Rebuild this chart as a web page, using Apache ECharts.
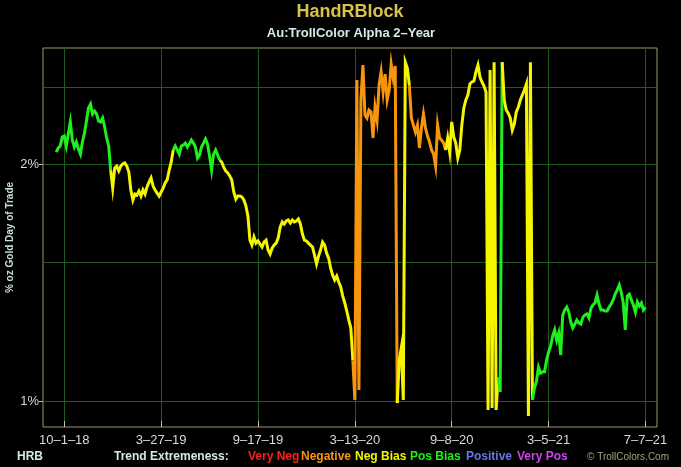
<!DOCTYPE html>
<html><head><meta charset="utf-8">
<script src="https://cdn.jsdelivr.net/npm/echarts@6/dist/echarts.min.js"></script>
<style>html,body{margin:0;padding:0;background:#000;}#c{width:681px;height:467px;}</style>
</head><body><div id="c"></div>
<script>
// ---- data ----
const tickIndex = [4, 52, 100, 148, 196, 244, 292];
const tickLabels = ['10–1–18', '3–27–19', '9–17–19', '3–13–20', '9–8–20', '3–5–21', '7–7–21'];
const yLabelValues = [1, 2];
const yGridValues = [1, 1.5, 2, 2.5];
const values = [
  2.071,2.096,2.108,2.164,2.171,2.108,2.183,2.262,2.145,2.102,
  2.133,2.090,2.059,2.133,2.190,2.268,2.356,2.383,2.315,2.335,
  2.315,2.268,2.262,2.288,2.229,2.158,2.108,1.965,1.864,1.977,
  1.988,1.960,1.988,2.000,2.006,1.988,1.954,1.854,1.800,1.832,
  1.827,1.848,1.821,1.854,1.832,1.870,1.897,1.920,1.875,1.854,
  1.837,1.821,1.843,1.864,1.892,1.909,1.965,2.012,2.084,2.108,
  2.084,2.059,2.108,2.114,2.126,2.102,2.120,2.145,2.126,2.102,
  2.035,2.053,2.102,2.126,2.152,2.120,2.047,1.965,2.059,2.084,
  2.053,2.024,2.012,1.982,1.960,1.948,1.931,1.909,1.843,1.805,
  1.821,1.821,1.816,1.800,1.769,1.718,1.601,1.578,1.615,1.587,
  1.597,1.583,1.569,1.592,1.601,1.555,1.537,1.564,1.578,1.587,
  1.611,1.663,1.688,1.678,1.693,1.698,1.683,1.698,1.688,1.693,
  1.703,1.678,1.630,1.601,1.597,1.587,1.578,1.569,1.532,1.493,
  1.528,1.555,1.592,1.578,1.541,1.519,1.475,1.445,1.425,1.441,
  1.416,1.396,1.359,1.332,1.301,1.267,1.238,1.127,1.003,2.557,
  1.033,2.412,2.671,2.308,2.288,2.342,2.329,2.158,2.363,2.275,
  2.520,2.618,2.469,2.602,2.412,2.483,2.679,2.572,2.664,0.994,
  1.127,1.168,1.003,2.694,2.648,2.520,2.288,2.241,2.196,2.241,
  2.096,2.222,2.315,2.222,2.171,2.133,2.084,2.059,1.988,2.241,
  2.158,2.145,2.126,2.084,2.158,2.071,2.262,2.164,2.126,2.035,
  2.084,2.241,2.356,2.412,2.447,2.527,2.542,2.550,2.618,2.671,
  2.579,2.542,2.512,2.469,0.974,2.633,0.980,2.694,0.974,1.073,
  1.027,2.694,2.412,2.342,2.321,2.288,2.209,2.248,2.329,2.363,
  2.412,2.447,2.483,2.527,0.957,2.694,1.003,1.039,1.060,1.104,
  1.085,1.089,1.089,1.127,1.154,1.174,1.209,1.231,1.195,1.220,
  1.144,1.286,1.305,1.316,1.297,1.260,1.238,1.252,1.267,1.256,
  1.252,1.278,1.286,1.290,1.275,1.312,1.324,1.332,1.363,1.328,
  1.305,1.305,1.301,1.301,1.316,1.328,1.344,1.367,1.384,1.404,
  1.375,1.332,1.231,1.359,1.367,1.344,1.324,1.297,1.336,1.320,
  1.332,1.305,1.316
];
// trend runs: index where each run begins and its trend class
const trendStart = [0, 28, 59, 82, 148, 170, 176, 194, 220, 222, 237];
const trendCode = ['Pos Bias','Neg Bias','Pos Bias','Neg Bias','Negative','Neg Bias','Negative','Neg Bias','Pos Bias','Neg Bias','Pos Bias'];
const trendNames = ['Very Neg', 'Negative', 'Neg Bias', 'Pos Bias', 'Positive', 'Very Pos'];
const trendColors = {
  'Very Neg': '#ff1f1f', 'Negative': '#f7960e', 'Neg Bias': '#f5f500',
  'Pos Bias': '#1ef01e', 'Positive': '#6677e6', 'Very Pos': '#cc44ee'
};

// ---- build ----
const FONT = 'Liberation Sans, Arial, Helvetica, sans-serif';
const N = values.length;
const series = [];
for (let r = 0; r < trendStart.length; r++) {
  const s = trendStart[r];
  const e = r + 1 < trendStart.length ? trendStart[r + 1] - 1 : N - 1;
  const data = [];
  for (let i = Math.max(0, s - 1); i <= e; i++) data.push([i, values[i]]);
  series.push({
    type: 'line', data, showSymbol: false, symbol: 'none', animation: false,
    lineStyle: { width: 3, color: trendColors[trendCode[r]], join: 'miter' },
    itemStyle: { color: trendColors[trendCode[r]] }
  });
}

const legendX = [248, 301, 355, 410, 466, 517];
const graphics = [
  { type: 'text', x: 350, y: 12, style: { text: 'HandRBlock', fill: '#d9c248', font: 'bold 18px ' + FONT, align: 'center', verticalAlign: 'middle' } },
  { type: 'text', x: 351, y: 33, style: { text: 'Au:TrollColor Alpha 2–Year', fill: '#d2eaea', font: 'bold 13px ' + FONT, align: 'center', verticalAlign: 'middle' } },
  { type: 'text', x: 17, y: 457, style: { text: 'HRB', fill: '#d2eaea', font: 'bold 12px ' + FONT, align: 'left', verticalAlign: 'middle' } },
  { type: 'text', x: 114, y: 457, style: { text: 'Trend Extremeness:', fill: '#d2eaea', font: 'bold 12px ' + FONT, align: 'left', verticalAlign: 'middle' } },
  { type: 'text', x: 587, y: 457, style: { text: '© TrollColors.Com', fill: '#a3a37a', font: '10px ' + FONT, align: 'left', verticalAlign: 'middle' } }
];
trendNames.forEach((n, k) => graphics.push({
  type: 'text', x: legendX[k], y: 457,
  style: { text: n, fill: trendColors[n], font: 'bold 12px ' + FONT, align: 'left', verticalAlign: 'middle' }
}));

const yMin = 0.9268, yMax = 2.808;
const chart = echarts.init(document.getElementById('c'));
chart.setOption({
  backgroundColor: '#000',
  animation: false,
  grid: { left: 43, top: 48, right: 24, bottom: 40, show: true, borderColor: '#a09868', borderWidth: 1, backgroundColor: '#000', outerBoundsMode: 'none', containLabel: false },
  xAxis: {
    type: 'value', min: -6.54, max: 297.72,
    axisLine: { show: false },
    axisTick: { show: true, inside: true, length: 6, customValues: tickIndex, lineStyle: { color: '#c8c0a0' } },
    axisLabel: { customValues: tickIndex, formatter: v => tickLabels[tickIndex.indexOf(Math.round(v))] || '', color: '#d8d8d8', fontSize: 13, fontFamily: FONT, margin: 7 },
    splitLine: { show: true, lineStyle: { color: '#1f5a1f', width: 1 } }
  },
  yAxis: [
    {
      type: 'log', logBase: 10, min: yMin, max: yMax,
      axisLine: { show: false }, axisLabel: { show: false },
      axisTick: { show: false, customValues: yGridValues },
      splitLine: { show: true, lineStyle: { color: '#1f5a1f', width: 1 } }
    },
    {
      type: 'log', logBase: 10, min: yMin, max: yMax, position: 'left',
      axisLine: { show: false },
      axisTick: { show: true, length: 4, customValues: yLabelValues, lineStyle: { color: '#c8c0a0' } },
      axisLabel: { customValues: yLabelValues, formatter: v => Math.round(v) + '%', color: '#d8d8d8', fontSize: 13, fontFamily: FONT, margin: 4 },
      splitLine: { show: false },
      name: '% oz Gold Day of Trade', nameLocation: 'middle', nameGap: 28, nameMoveOverlap: false,
      nameTextStyle: { color: '#c8dede', fontSize: 10, fontWeight: 'bold', fontFamily: FONT }
    }
  ],
  series,
  graphic: graphics
});
</script></body></html>
